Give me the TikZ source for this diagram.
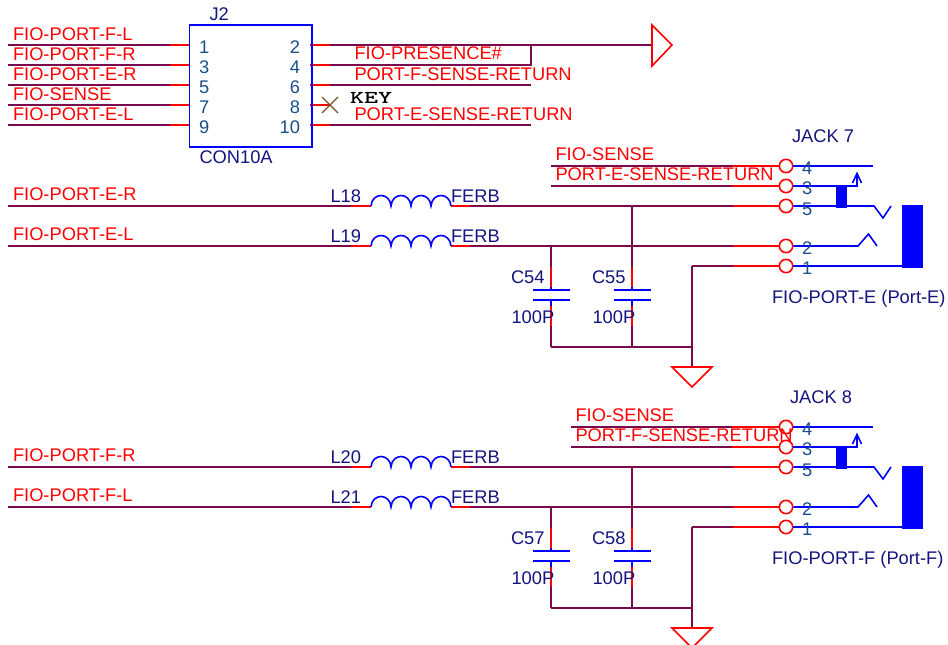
\documentclass[tikz,border=0pt]{standalone}
\usepackage{fontspec}
\setmainfont{Liberation Sans}
\definecolor{wine}{HTML}{7B0A4D}
\definecolor{navytxt}{HTML}{14147F}
\definecolor{pintxt}{HTML}{1B4F8C}
\definecolor{xbrown}{HTML}{80501A}
\tikzset{
  winew/.style={draw=wine,line width=1.2pt},
  redw/.style={draw=red,line width=1.2pt},
  bluew/.style={draw=blue,line width=1.2pt},
  txt/.style={anchor=base west,inner sep=0pt,outer sep=0pt,font=\fontsize{13.72}{15}\selectfont},
  netlab/.style={txt,text=red},
  partlab/.style={txt,text=navytxt},
  pinnum/.style={txt,text=pintxt},
  pinnumr/.style={txt,anchor=base east,text=pintxt},
  pinc/.style={circle,draw=red,fill=white,line width=1.2pt,minimum size=10pt,inner sep=0pt},
}
% a wine wire that turns red towards its pin
\newcommand{\wirerow}[5]{% id, x start, x colour change, x end, y
  \coordinate (#1a) at (#2,#5);
  \coordinate (#1b) at (#3,#5);
  \coordinate (#1c) at (#4,#5);
  \draw[winew] (#1a) -- (#1b);
  \draw[redw] (#1b) -- (#1c);
}
% one jack: id, y offset, x of the wire start, sense text, title, title x, title y, bottom text
\newcommand{\jackpart}[8]{%
\begin{scope}[shift={(0,#2)}]
  \node[pinc] (#1p4) at (786,166) {};
  \node[pinc] (#1p3) at (786,186) {};
  \node[pinc] (#1p5) at (786,206) {};
  \node[pinc] (#1p2) at (786,246) {};
  \node[pinc] (#1p1) at (786,266) {};
  \coordinate (#1s4) at (#3,166);
  \coordinate (#1s3) at (#3,186);
  \coordinate (#1m4) at (732,166);
  \coordinate (#1m3) at (732,186);
  \coordinate (#1m5) at (733,206);
  \coordinate (#1m2) at (733,246);
  \coordinate (#1m1) at (733,266);
  \draw[winew] (#1s4) -- (#1m4);
  \draw[winew] (#1s3) -- (#1m3);
  \draw[redw] (#1m4) -- (#1p4.west);
  \draw[redw] (#1m3) -- (#1p3.west);
  \draw[redw] (#1m5) -- (#1p5.west);
  \draw[redw] (#1m2) -- (#1p2.west);
  \draw[redw] (#1m1) -- (#1p1.west);
  % contacts
  \draw[bluew] (#1p4.east) -- (873,166);
  \draw[bluew] (#1p3.east) -- (857,186) -- (857,174);
  \draw[bluew,line join=miter] (852.5,183) -- (857,173.5) -- (861.5,183);
  \fill[blue] (836,186) rectangle (847,208);
  \draw[bluew,line join=miter] (#1p5.east) -- (874,206) -- (883,218) -- (891,206);
  \draw[bluew,line join=miter] (#1p2.east) -- (858,246) -- (868.5,234) -- (877,246);
  \draw[bluew] (#1p1.east) -- (903,266);
  \fill[blue] (902,205) rectangle (923,268);
  % labels
  \node[netlab] (#1lsense) at ({#3+4.5},160.5) {FIO-SENSE};
  \node[netlab] (#1lret) at ({#3+4.5},180.5) {#4};
  \node[partlab] (#1ltitle) at (#6,#7) {#5};
  \node[partlab] (#1lbot) at (772,303) {#8};
  \node[pinnum] (#1n4) at (802,174.5) {4};
  \node[pinnum] (#1n3) at (802,194.5) {3};
  \node[pinnum] (#1n5) at (802,215) {5};
  \node[pinnum] (#1n2) at (802,254.5) {2};
  \node[pinnum] (#1n1) at (802,274) {1};
\end{scope}}
\newcommand{\inductor}[2]{% left x, y
  \draw[bluew] (#1,#2)
    .. controls ({#1+1},{#2-14}) and ({#1+19},{#2-14}) .. ({#1+20},#2)
    .. controls ({#1+21},{#2-14}) and ({#1+39},{#2-14}) .. ({#1+40},#2)
    .. controls ({#1+41},{#2-14}) and ({#1+59},{#2-14}) .. ({#1+60},#2)
    .. controls ({#1+61},{#2-14}) and ({#1+79},{#2-14}) .. ({#1+80},#2);
}
\newcommand{\capacitor}[5]{% id, x, top y, name, name x
  \coordinate (#1t) at (#2,#3);
  \coordinate (#1u) at (#2,267);
  \coordinate (#1v) at (#2,287);
  \coordinate (#1w) at (#2,290);
  \coordinate (#1x) at (#2,300);
  \coordinate (#1y) at (#2,306);
  \coordinate (#1z) at (#2,326);
  \coordinate (#1g) at (#2,347);
  \draw[winew] (#1t) -- (#1u);
  \draw[redw] (#1u) -- (#1v);
  \draw[bluew] (#1v) -- (#1w);
  \draw[bluew] ({#2-18.5},290) -- ({#2+18.5},290);
  \draw[bluew] ({#2-18.5},300) -- ({#2+18.5},300);
  \draw[bluew] (#1x) -- (#1y);
  \draw[redw] (#1y) -- (#1z);
  \draw[winew] (#1z) -- (#1g);
  \node[partlab] (#1name) at (#5,283) {#4};
  \node[partlab] (#1val) at ({#5+0.5},323) {100P};
}
% filter: id, y offset, L upper, L lower, C left, C right, upper net, lower net
\newcommand{\filterpart}[8]{%
\begin{scope}[shift={(0,#2)}]
  \coordinate (#1ua) at (8,206);
  \coordinate (#1ub) at (351,206);
  \coordinate (#1uc) at (371,206);
  \coordinate (#1ud) at (451,206);
  \coordinate (#1ue) at (470,206);
  \coordinate (#1uf) at (733,206);
  \coordinate (#1la) at (8,246);
  \coordinate (#1lb) at (351,246);
  \coordinate (#1lc) at (371,246);
  \coordinate (#1ld) at (451,246);
  \coordinate (#1le) at (470,246);
  \coordinate (#1lf) at (733,246);
  \draw[winew] (#1ua) -- (#1ub);
  \draw[redw] (#1ub) -- (#1uc);
  \draw[redw] (#1ud) -- (#1ue);
  \draw[winew] (#1ue) -- (#1uf);
  \draw[winew] (#1la) -- (#1lb);
  \draw[redw] (#1lb) -- (#1lc);
  \draw[redw] (#1ld) -- (#1le);
  \draw[winew] (#1le) -- (#1lf);
  \inductor{371}{206}
  \inductor{371}{246}
  \capacitor{#1ca}{551}{246}{#5}{511}
  \capacitor{#1cb}{632}{206}{#6}{592}
  \coordinate (#1gj) at (692,347);
  \coordinate (#1gt) at (692,367);
  \coordinate (#1gs) at (692,266);
  \draw[winew,line join=miter] (#1gs) -- (#1gt);
  \draw[winew] (#1cag) -- (#1gj);
  \coordinate (#1rr) at (733,266);
  \draw[winew] (#1gs) -- (#1rr);
  \draw[draw=red,line width=1.2pt,line join=miter] (672,367) -- (712,367) -- (692,387) -- cycle;
  \node[netlab] (#1nu) at (13,200) {#7};
  \node[netlab] (#1nl) at (13,240) {#8};
  \node[partlab] (#1lu) at (330.5,202.5) {#3};
  \node[partlab] (#1ll) at (330.5,242.5) {#4};
  \node[partlab] (#1fu) at (451,202.5) {FERB};
  \node[partlab] (#1fl) at (451,242.5) {FERB};
\end{scope}}
\begin{document}
\begin{tikzpicture}[x=0.75pt,y=-0.75pt]
\useasboundingbox (0,0) rectangle (948,645);
\clip (0,0) rectangle (948,645);
\fill[white] (0,0) rectangle (948,645);
% connector J2
\wirerow{la}{8}{170}{190}{45}
\wirerow{lb}{8}{170}{190}{65}
\wirerow{lc}{8}{170}{190}{85}
\wirerow{ld}{8}{170}{190}{105}
\wirerow{le}{8}{170}{190}{125}
\coordinate (ra) at (310,45); \coordinate (rb) at (310,65); \coordinate (rc) at (310,85);
\coordinate (rd) at (310,105); \coordinate (re) at (310,125);
\coordinate (rax) at (330,45); \coordinate (rbx) at (330,65); \coordinate (rcx) at (330,85);
\coordinate (rdx) at (330,105); \coordinate (rex) at (330,125);
\coordinate (ja) at (531,45); \coordinate (jb) at (531,65); \coordinate (jc) at (531,85); \coordinate (jd) at (531,125);
\coordinate (tri) at (652,45);
\draw[redw] (ra) -- (rax);
\draw[redw] (rb) -- (rbx);
\draw[redw] (rc) -- (rcx);
\draw[redw] (rd) -- (rdx);
\draw[redw] (re) -- (rex);
\draw[winew] (rax) -- (tri);
\draw[winew,line join=miter] (ja) -- (jb) -- (rbx);
\draw[winew] (rcx) -- (jc);
\draw[winew] (rex) -- (jd);
\draw[draw=blue,line width=1.2pt] (189.5,25) rectangle (312,147);
\draw[draw=xbrown,line width=0.9pt] (322,97) -- (338,113) (338,97) -- (322,113);
\draw[draw=red,line width=1.2pt,line join=miter] (652,25) -- (672,45) -- (652,66) -- cycle;
\node[netlab] (ta) at (13,41) {FIO-PORT-F-L};
\node[netlab] (tb) at (13,61) {FIO-PORT-F-R};
\node[netlab] (tc) at (13,80.5) {FIO-PORT-E-R};
\node[netlab] (td) at (13,101) {FIO-SENSE};
\node[netlab] (te) at (13,121) {FIO-PORT-E-L};
\node[partlab] (jn) at (209.5,21) {J2};
\node[partlab] (jv) at (199.5,164) {CON10A};
\node[pinnum] (n1) at (199,54) {1};
\node[pinnum] (n3) at (199,74) {3};
\node[pinnum] (n5) at (199,94) {5};
\node[pinnum] (n7) at (199,114) {7};
\node[pinnum] (n9) at (199,134) {9};
\node[pinnumr] (n2) at (300,54) {2};
\node[pinnumr] (n4) at (300,74) {4};
\node[pinnumr] (n6) at (300,94) {6};
\node[pinnumr] (n8) at (300,114) {8};
\node[pinnumr] (n10) at (300,134) {10};
\node[netlab] (tf) at (354.5,60) {FIO-PRESENCE\#};
\node[netlab] (tg) at (354.5,81) {PORT-F-SENSE-RETURN};
\node[netlab] (th) at (354.5,121) {PORT-E-SENSE-RETURN};
\node[txt,text=black] (key) at (350,103.5) {\scalebox{1}[0.68]{\fontsize{20}{22}\selectfont\ttfamily\bfseries\addfontfeature{FakeBold=1.5}KEY}};
\filterpart{fe}{0}{L18}{L19}{C54}{C55}{FIO-PORT-E-R}{FIO-PORT-E-L}
\filterpart{ff}{261}{L20}{L21}{C57}{C58}{FIO-PORT-F-R}{FIO-PORT-F-L}
\jackpart{je}{0}{551}{PORT-E-SENSE-RETURN}{JACK 7}{792}{143}{FIO-PORT-E (Port-E)}
\jackpart{jf}{261}{571}{PORT-F-SENSE-RETURN}{JACK 8}{790}{142}{FIO-PORT-F (Port-F)}
\end{tikzpicture}
\end{document}
